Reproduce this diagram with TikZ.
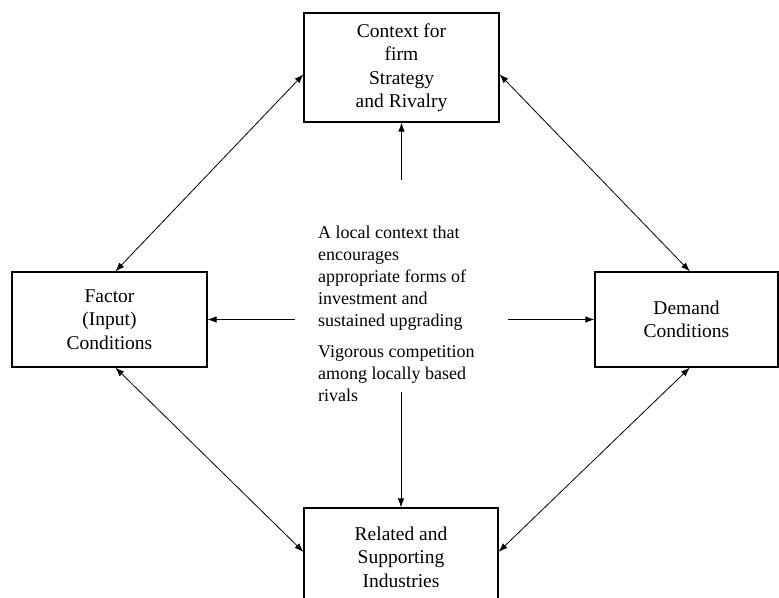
\documentclass[tikz,border=0pt]{standalone}
\usepackage{fontspec}
\setmainfont{Liberation Serif}
\usepackage{tikz}
\usetikzlibrary{arrows.meta,positioning,calc}
\tikzstyle{forcebox}=[rectangle, draw=black, line width=1.2pt, align=center, font=\fontsize{19.5}{23.5}\selectfont, inner sep=0pt]
\tikzstyle{notetext}=[align=left, anchor=north west, inner sep=0pt, font=\fontsize{18}{22}\selectfont]
\tikzstyle{linkarrow}=[{Latex[length=9pt,width=6.5pt]}-{Latex[length=9pt,width=6.5pt]}, line width=0.8pt]
\tikzstyle{pusharrow}=[-{Latex[length=9pt,width=6.5pt]}, line width=0.8pt]

\begin{document}
\begin{tikzpicture}[x=1pt, y=-1pt]
    \useasboundingbox (0,0) rectangle (779,597);
    \clip (0,0) rectangle (779,597);

    % Boxes
    \node[forcebox, minimum width=195pt, minimum height=109pt] (ctx) at (401.5,67.5)
      {Context for\\firm\\Strategy\\and Rivalry};
    \node[forcebox, minimum width=195pt, minimum height=95pt] (factor) at (109.5,319.5)
      {Factor\\(Input)\\Conditions};
    \node[forcebox, minimum width=183pt, minimum height=95pt] (demand) at (686.5,319.5)
      {Demand\\Conditions};
    \node[forcebox, minimum width=194pt, minimum height=98pt] (related) at (401,557)
      {Related and\\Supporting\\Industries};

    % Center text
    \node[notetext] (local) at (318,226)
      {A local context that\\encourages\\appropriate forms of\\investment and\\sustained upgrading};
    \node[notetext] (rivals) at (318,345)
      {Vigorous competition\\among locally based\\rivals};

    % Free ends
    \coordinate (upfree) at (401.5,180);
    \coordinate (downfree) at (401,392);
    \coordinate (leftfree) at (295,319.5);
    \coordinate (rightfree) at (508,319.5);

    % Arrows from the center
    \draw[pusharrow] (upfree) -- (ctx.south);
    \draw[pusharrow] (downfree) -- (related.north);
    \draw[pusharrow] (leftfree) -- (factor.east);
    \draw[pusharrow] (rightfree) -- (demand.west);

    % Links between the forces
    \draw[linkarrow] (ctx.184) -- (factor.83);
    \draw[linkarrow] (ctx.356) -- (demand.86);
    \draw[linkarrow] (factor.277) -- (related.177);
    \draw[linkarrow] (demand.274) -- (related.3);
\end{tikzpicture}
\end{document}
